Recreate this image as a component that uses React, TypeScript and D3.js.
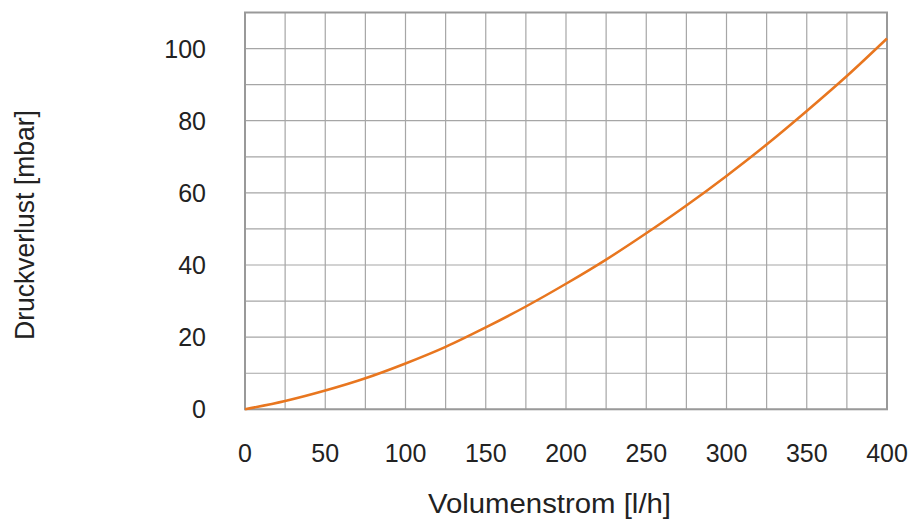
import {scaleLinear, line, curveMonotoneX, range} from "d3";

// Volumenstrom [l/h] -> Druckverlust [mbar]
const flow = [0, 25, 50, 75, 100, 125, 150, 175, 200, 225, 250, 275, 300, 325, 350, 375, 400];
const pressure = [0, 2.3, 5.2, 8.6, 12.7, 17.3, 22.7, 28.5, 34.8, 41.5, 48.8, 56.5, 64.7, 73.4, 82.7, 92.4, 102.8];
const xTicks = [0, 50, 100, 150, 200, 250, 300, 350, 400];
const yTicks = [0, 20, 40, 60, 80, 100];

const width = 912;
const height = 519;
const plot = {left: 245, right: 887, top: 12.5, bottom: 409.3};
const font = "'Liberation Sans', Arial, sans-serif";

export default function App() {
    const x = scaleLinear().domain([0, 400]).range([plot.left, plot.right]);
    const y = scaleLinear().domain([0, 110]).range([plot.bottom, plot.top]);
    const path = line<number>()
        .x((_, i) => x(flow[i]))
        .y((d) => y(d))
        .curve(curveMonotoneX)(pressure);

    const xGrid = range(0, 401, 25);
    const yGrid = range(0, 111, 10);

    return <svg width={width} height={height} style={{position: "absolute", left: 0, top: 0}}>
        <rect x={0} y={0} width={width} height={height} fill="#fff"/>
        {xGrid.map((v) => (
            <line key={"gx" + v} x1={x(v)} x2={x(v)} y1={plot.top} y2={plot.bottom} stroke="#a6a6a6" strokeWidth={1.2}/>
        ))}
        {yGrid.map((v) => (
            <line key={"gy" + v} x1={plot.left} x2={plot.right} y1={y(v)} y2={y(v)} stroke="#a6a6a6" strokeWidth={1.2}/>
        ))}
        <rect x={plot.left} y={plot.top} width={plot.right - plot.left} height={plot.bottom - plot.top}
              fill="none" stroke="#999" strokeWidth={2}/>
        <path d={path ?? ""} fill="none" stroke="#e8761f" strokeWidth={2.5}/>
        {xTicks.map((v) => (
            <text key={"tx" + v} x={x(v)} y={462} textAnchor="middle" fontFamily={font} fontSize={25} fill="#222">{v}</text>
        ))}
        {yTicks.map((v) => (
            <text key={"ty" + v} x={206} y={y(v) + 9} textAnchor="end" fontFamily={font} fontSize={25} fill="#222">{v}</text>
        ))}
        <text x={549.5} y={513} textAnchor="middle" fontFamily={font} fontSize={27} fill="#222"
              textLength={243} lengthAdjust="spacingAndGlyphs">Volumenstrom [l/h]</text>
        <text transform={`translate(34, 225) rotate(-90)`} textAnchor="middle" fontFamily={font} fontSize={27} fill="#222"
              textLength={230} lengthAdjust="spacingAndGlyphs">Druckverlust [mbar]</text>
    </svg>;
}
